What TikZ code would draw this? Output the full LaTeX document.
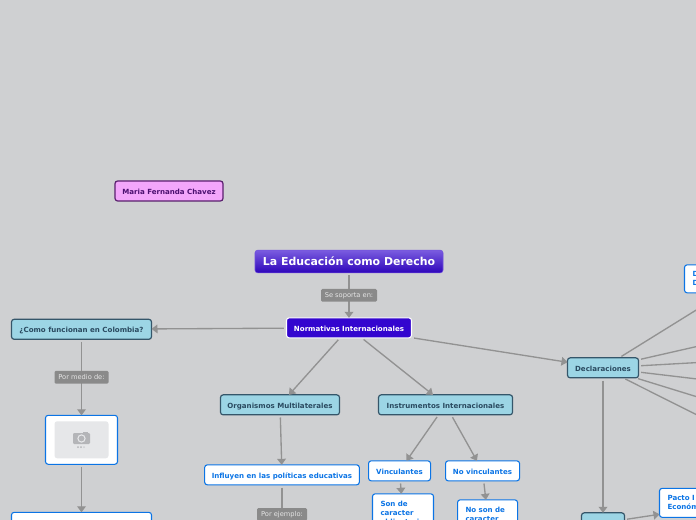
\documentclass[tikz,border=0pt]{standalone}
\usepackage{fontspec}
\setmainfont{DejaVu Sans}
\usetikzlibrary{arrows.meta,calc,positioning}
\definecolor{paper}{HTML}{CFD0D2}
\definecolor{tealfill}{HTML}{9CD5E5}
\definecolor{tealline}{HTML}{35566A}
\definecolor{tealtext}{HTML}{2A4A60}
\definecolor{bluetext}{HTML}{0B74E5}
\definecolor{connline}{HTML}{929292}
\definecolor{tagfill}{HTML}{8A8A8A}
\definecolor{normfill}{HTML}{3305CF}
\definecolor{pinkfill}{HTML}{F3A6FB}
\definecolor{pinkline}{HTML}{5A1F6E}
\definecolor{pinktext}{HTML}{4B1070}
\definecolor{photofill}{HTML}{E6E7E9}
\definecolor{cameragrey}{HTML}{B4B5B8}
\tikzset{
  tealbox/.style={draw=tealline, rounded corners=2pt, fill=tealfill, line width=0.9pt, text=tealtext, minimum height=15pt, text height=5.4pt, text depth=0.2pt, inner sep=0pt, outer sep=0pt, font=\fontsize{5.3}{6.75}\selectfont\bfseries},
  whitebox/.style={draw=bluetext, rounded corners=2pt, fill=white, line width=0.8pt, text=bluetext, minimum height=15pt, text height=5.4pt, text depth=0.2pt, inner sep=0pt, outer sep=0pt, font=\fontsize{5.3}{6.75}\selectfont\bfseries},
  textbox/.style={whitebox, align=left, text height=, text depth=, inner xsep=6pt, inner ysep=5.7pt},
  conn/.style={draw=connline, line width=1pt, shorten <=2pt, -{Triangle[width=6.5pt,length=4.5pt]}},
  plainconn/.style={draw=connline, line width=1pt, shorten <=2pt},
  greytag/.style={fill=tagfill, rounded corners=1pt, text=white!90!black, inner sep=0pt, outer sep=0pt, minimum height=9.6pt, text height=4.2pt, text depth=1pt, font=\fontsize{5}{6}\selectfont}
}
\begin{document}
\begin{tikzpicture}[x=0.75pt,y=-0.75pt]
  \useasboundingbox (0,0) rectangle (696,520);
  \clip (0,0) rectangle (696,520);
  \fill[paper] (0,0) rectangle (696,520);

  % Main title and first level
  \node[draw=normfill!70, rounded corners=2pt, top color=normfill!65!white, bottom color=normfill!90!black, text=white, minimum width=141pt, minimum height=17pt, text height=7pt, text depth=0.6pt, inner sep=0pt, outer sep=0pt, font=\fontsize{8.2}{10}\selectfont\bfseries] (Title) at (349,261.5) {La Educación como Derecho};
  \node[draw=white, rounded corners=2pt, fill=normfill, text=white, line width=0.8pt, minimum width=93.75pt, minimum height=15pt, text height=5.4pt, text depth=0.2pt, inner sep=0pt, outer sep=0pt, font=\fontsize{5.3}{6.75}\selectfont\bfseries, below=33.75pt of Title] (Normativas) {Normativas Internacionales};
  \node[draw=pinkline, rounded corners=2pt, fill=pinkfill, text=pinktext, line width=0.9pt, minimum width=81pt, minimum height=15pt, text height=5.4pt, text depth=0.2pt, inner sep=0pt, outer sep=0pt, font=\fontsize{5.3}{6.75}\selectfont\bfseries] (Maria) at (169,191) {Maria Fernanda Chavez};

  % Left branch
  \node[tealbox, minimum width=105pt, left=101.25pt of Normativas, yshift=-1.1pt] (Colombia) {¿Como funcionan en Colombia?};
  \node[whitebox, minimum width=54pt, minimum height=36.75pt, below=57pt of Colombia] (Photo) {};
  \node[whitebox, minimum width=105pt, minimum height=30pt, below=36pt of Photo] (Colombiados) {};
  \node[fill=photofill, rounded corners=2pt, minimum width=40.5pt, minimum height=27.75pt, inner sep=0pt] (Photoframe) at (Photo) {};
  \fill[cameragrey, rounded corners=0.8pt] (73,433) rectangle (90,444);
  \fill[cameragrey] (83,431.5) rectangle (88,433.5);
  \draw[photofill, line width=0.8pt] (81.5,438.5) circle (3.6);
  \fill[cameragrey] (78,447) circle (1) (81,447) circle (1);
  \fill[cameragrey!50!photofill] (84,447) circle (1);

  % Middle branches
  \node[tealbox, minimum width=89.25pt, below=42.75pt of Normativas, xshift=-51.75pt] (Organismos) {Organismos Multilaterales};
  \node[tealbox, minimum width=100.5pt, below=42.75pt of Normativas, xshift=72.4pt] (Instrumentos) {Instrumentos Internacionales};
  \node[whitebox, minimum width=116pt, below=37.5pt of Organismos, xshift=1.5pt] (Influyen) {Influyen en las políticas educativas};
  \node[whitebox, minimum width=46.5pt, below=34.5pt of Instrumentos, xshift=-34.5pt] (Vinculantes) {Vinculantes};
  \node[whitebox, minimum width=55.5pt, below=34.5pt of Instrumentos, xshift=27.75pt] (Novinculantes) {No vinculantes};
  \node[textbox, text width=33.75pt, below=9.75pt of Vinculantes, xshift=2.6pt] (Obligatorio) {Son de\\caracter\\obligatorio};
  \node[textbox, text width=33pt, below=14.25pt of Novinculantes, xshift=3.75pt] (Noobligatorio) {No son de\\caracter};

  % Right branch, it runs past the edge of the page
  \node[tealbox, minimum width=53.25pt, right=117pt of Normativas, yshift=-30pt] (Declaraciones) {Declaraciones};
  \node[tealbox, minimum width=32.25pt, below=101.25pt of Declaraciones] (Pactos) {};
  \node[textbox, text width=102pt, minimum height=21.75pt, inner ysep=3.6pt, right=26.25pt of Pactos, yshift=15pt] (Pacto) {Pacto I\\Económ};
  \node[textbox, text width=81pt, minimum height=21pt, inner ysep=3.6pt, right=34.5pt of Declaraciones, yshift=66.75pt] (Declaracion) {D\\D};
  \coordinate (FanA) at (790,325.3);
  \coordinate (FanB) at (790,357.4);
  \coordinate (FanC) at (790,390);
  \coordinate (FanD) at (790,425.5);
  \coordinate (FanE) at (790,461.5);
  \coordinate (Ejemplos) at (282,544);

  % Connectors
  \draw[conn] (Title) -- (Normativas) node[midway, greytag, minimum width=42pt] {Se soporta en:};
  \draw[conn] (Normativas) -- (Colombia);
  \draw[conn] (Normativas) -- (Organismos);
  \draw[conn] (Normativas) -- (Instrumentos);
  \draw[conn] (Normativas) -- (Declaraciones);
  \draw[conn] (Colombia) -- (Photo) node[midway, greytag, minimum width=40.5pt] {Por medio de:};
  \draw[conn] (Photo) -- (Colombiados);
  \draw[conn] (Organismos) -- (Influyen);
  \draw[plainconn] (Influyen) -- (Ejemplos) node[midway, greytag, minimum width=37.5pt] {Por ejemplo:};
  \draw[conn] (Instrumentos) -- (Vinculantes);
  \draw[conn] (Instrumentos) -- (Novinculantes);
  \draw[conn] (Vinculantes) -- (Obligatorio);
  \draw[conn] (Novinculantes) -- (Noobligatorio);
  \draw[conn] (Declaraciones) -- (Pactos);
  \draw[conn] (Pactos) -- (Pacto);
  \draw[conn] (Declaraciones) -- (Declaracion);
  \foreach \fan in {FanA,FanB,FanC,FanD,FanE}
    \draw[plainconn] (Declaraciones) -- (\fan);
\end{tikzpicture}
\end{document}
